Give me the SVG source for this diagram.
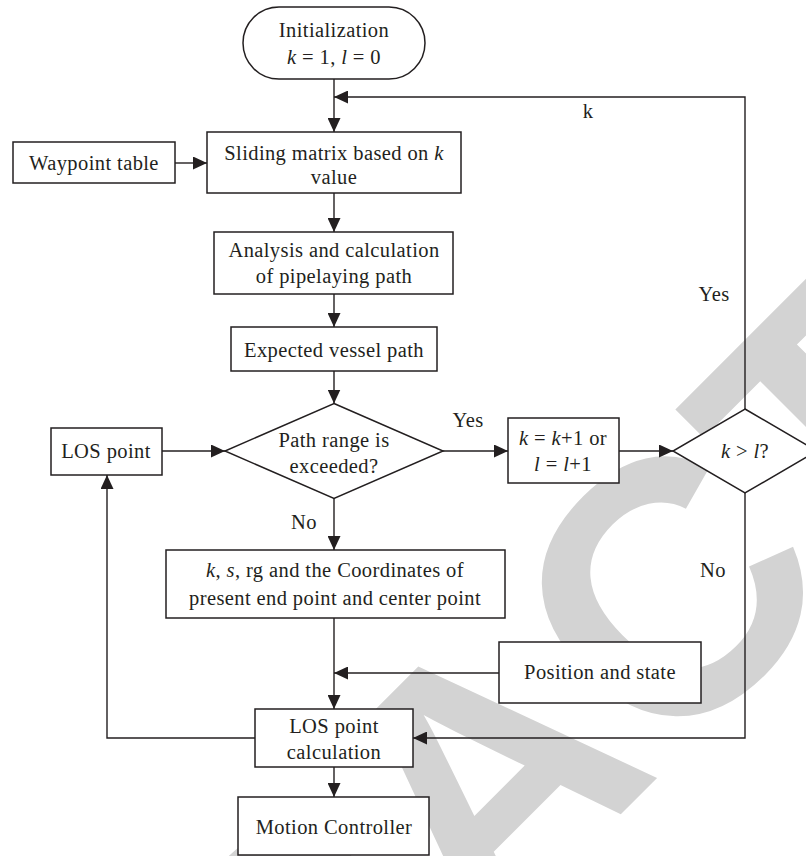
<svg xmlns="http://www.w3.org/2000/svg" width="806" height="856" viewBox="0 0 806 856">
<defs>
<style>
.n{fill:#fff;stroke:#231f20;stroke-width:1.5}
.t{font-family:"Liberation Serif","Times New Roman",serif;font-size:20.5px;fill:#231f20;text-anchor:middle;letter-spacing:0.4px}
.i{font-style:italic}
.c{fill:none;stroke:#231f20;stroke-width:1.4}
.wm{font-family:"Liberation Sans",Arial,sans-serif;font-weight:bold;font-size:360px;fill:#d3d3d3}
</style>
<marker id="ah" markerUnits="userSpaceOnUse" markerWidth="15" markerHeight="13" refX="14" refY="6.5" orient="auto"><path d="M0,0 L14,6.5 L0,13 z" fill="#231f20"/></marker>
</defs>
<rect width="806" height="856" fill="#fff"/>
<g id="watermark"><text class="wm" transform="translate(-213,1648) rotate(-45)">RETRACTED</text></g>
<g id="connectors">
<path class="c" d="M334,79 V132" marker-end="url(#ah)"/>
<path class="c" d="M745,409 V97 H334" marker-end="url(#ah)"/>
<path class="c" d="M175,163 H207" marker-end="url(#ah)"/>
<path class="c" d="M334,193 V232" marker-end="url(#ah)"/>
<path class="c" d="M334,294 V327" marker-end="url(#ah)"/>
<path class="c" d="M334,371 V403.5" marker-end="url(#ah)"/>
<path class="c" d="M162,451 H225" marker-end="url(#ah)"/>
<path class="c" d="M443,451 H508" marker-end="url(#ah)"/>
<path class="c" d="M619,451 H673" marker-end="url(#ah)"/>
<path class="c" d="M334,498.5 V550" marker-end="url(#ah)"/>
<path class="c" d="M334,618 V709" marker-end="url(#ah)"/>
<path class="c" d="M499,673 H334" marker-end="url(#ah)"/>
<path class="c" d="M745,493 V738 H413" marker-end="url(#ah)"/>
<path class="c" d="M255,738 H107 V475" marker-end="url(#ah)"/>
<path class="c" d="M334,767 V797" marker-end="url(#ah)"/>
</g>
<g id="init"><rect class="n" x="243" y="7" width="182" height="72" rx="36"/>
<text class="t" x="334" y="37">Initialization</text>
<text class="t" x="334" y="64"><tspan class="i">k</tspan> = 1, <tspan class="i">l</tspan> = 0</text></g>
<g id="sliding"><rect class="n" x="207" y="132" width="254" height="61"/>
<text class="t" x="334" y="160">Sliding matrix based on <tspan class="i">k</tspan></text>
<text class="t" x="334" y="184">value</text></g>
<g id="waypoint"><rect class="n" x="13" y="142" width="162" height="41"/>
<text class="t" x="94" y="170">Waypoint table</text></g>
<g id="analysis"><rect class="n" x="214" y="232" width="239" height="62"/>
<text class="t" x="334" y="257">Analysis and calculation</text>
<text class="t" x="334" y="283">of pipelaying path</text></g>
<g id="expected"><rect class="n" x="231" y="327" width="206" height="44"/>
<text class="t" x="334" y="357">Expected vessel path</text></g>
<g id="pathrange"><polygon class="n" points="334,403.5 443,451 334,498.5 225,451"/>
<text class="t" x="334" y="447">Path range is</text>
<text class="t" x="334" y="473">exceeded?</text></g>
<g id="lospoint"><rect class="n" x="51" y="428" width="111" height="47"/>
<text class="t" x="106" y="458">LOS point</text></g>
<g id="increment"><rect class="n" x="508" y="418" width="111" height="65"/>
<text class="t" x="563" y="445"><tspan class="i">k</tspan> = <tspan class="i">k</tspan>+1 or</text>
<text class="t" x="563" y="471"><tspan class="i">l</tspan> = <tspan class="i">l</tspan>+1</text></g>
<g id="kgtl"><polygon class="n" points="745,409 817,451 745,493 673,451"/>
<text class="t" x="745" y="458"><tspan class="i">k</tspan> &gt; <tspan class="i">l</tspan>?</text></g>
<g id="coords"><rect class="n" x="166" y="550" width="339" height="68"/>
<text class="t" x="335" y="577"><tspan class="i">k</tspan>, <tspan class="i">s</tspan>, rg and the Coordinates of</text>
<text class="t" x="335" y="605">present end point and center point</text></g>
<g id="position"><rect class="n" x="499" y="642" width="202" height="61"/>
<text class="t" x="600" y="679">Position and state</text></g>
<g id="loscalc"><rect class="n" x="255" y="709" width="158" height="58"/>
<text class="t" x="334" y="733">LOS point</text>
<text class="t" x="334" y="759">calculation</text></g>
<g id="motion"><rect class="n" x="238" y="797" width="191" height="58"/>
<text class="t" x="334" y="834">Motion Controller</text></g>
<g id="labels">
<text class="t" x="588" y="118">k</text>
<text class="t" x="714" y="301">Yes</text>
<text class="t" x="468" y="427">Yes</text>
<text class="t" x="304" y="529">No</text>
<text class="t" x="713" y="577">No</text>
</g>
</svg>
